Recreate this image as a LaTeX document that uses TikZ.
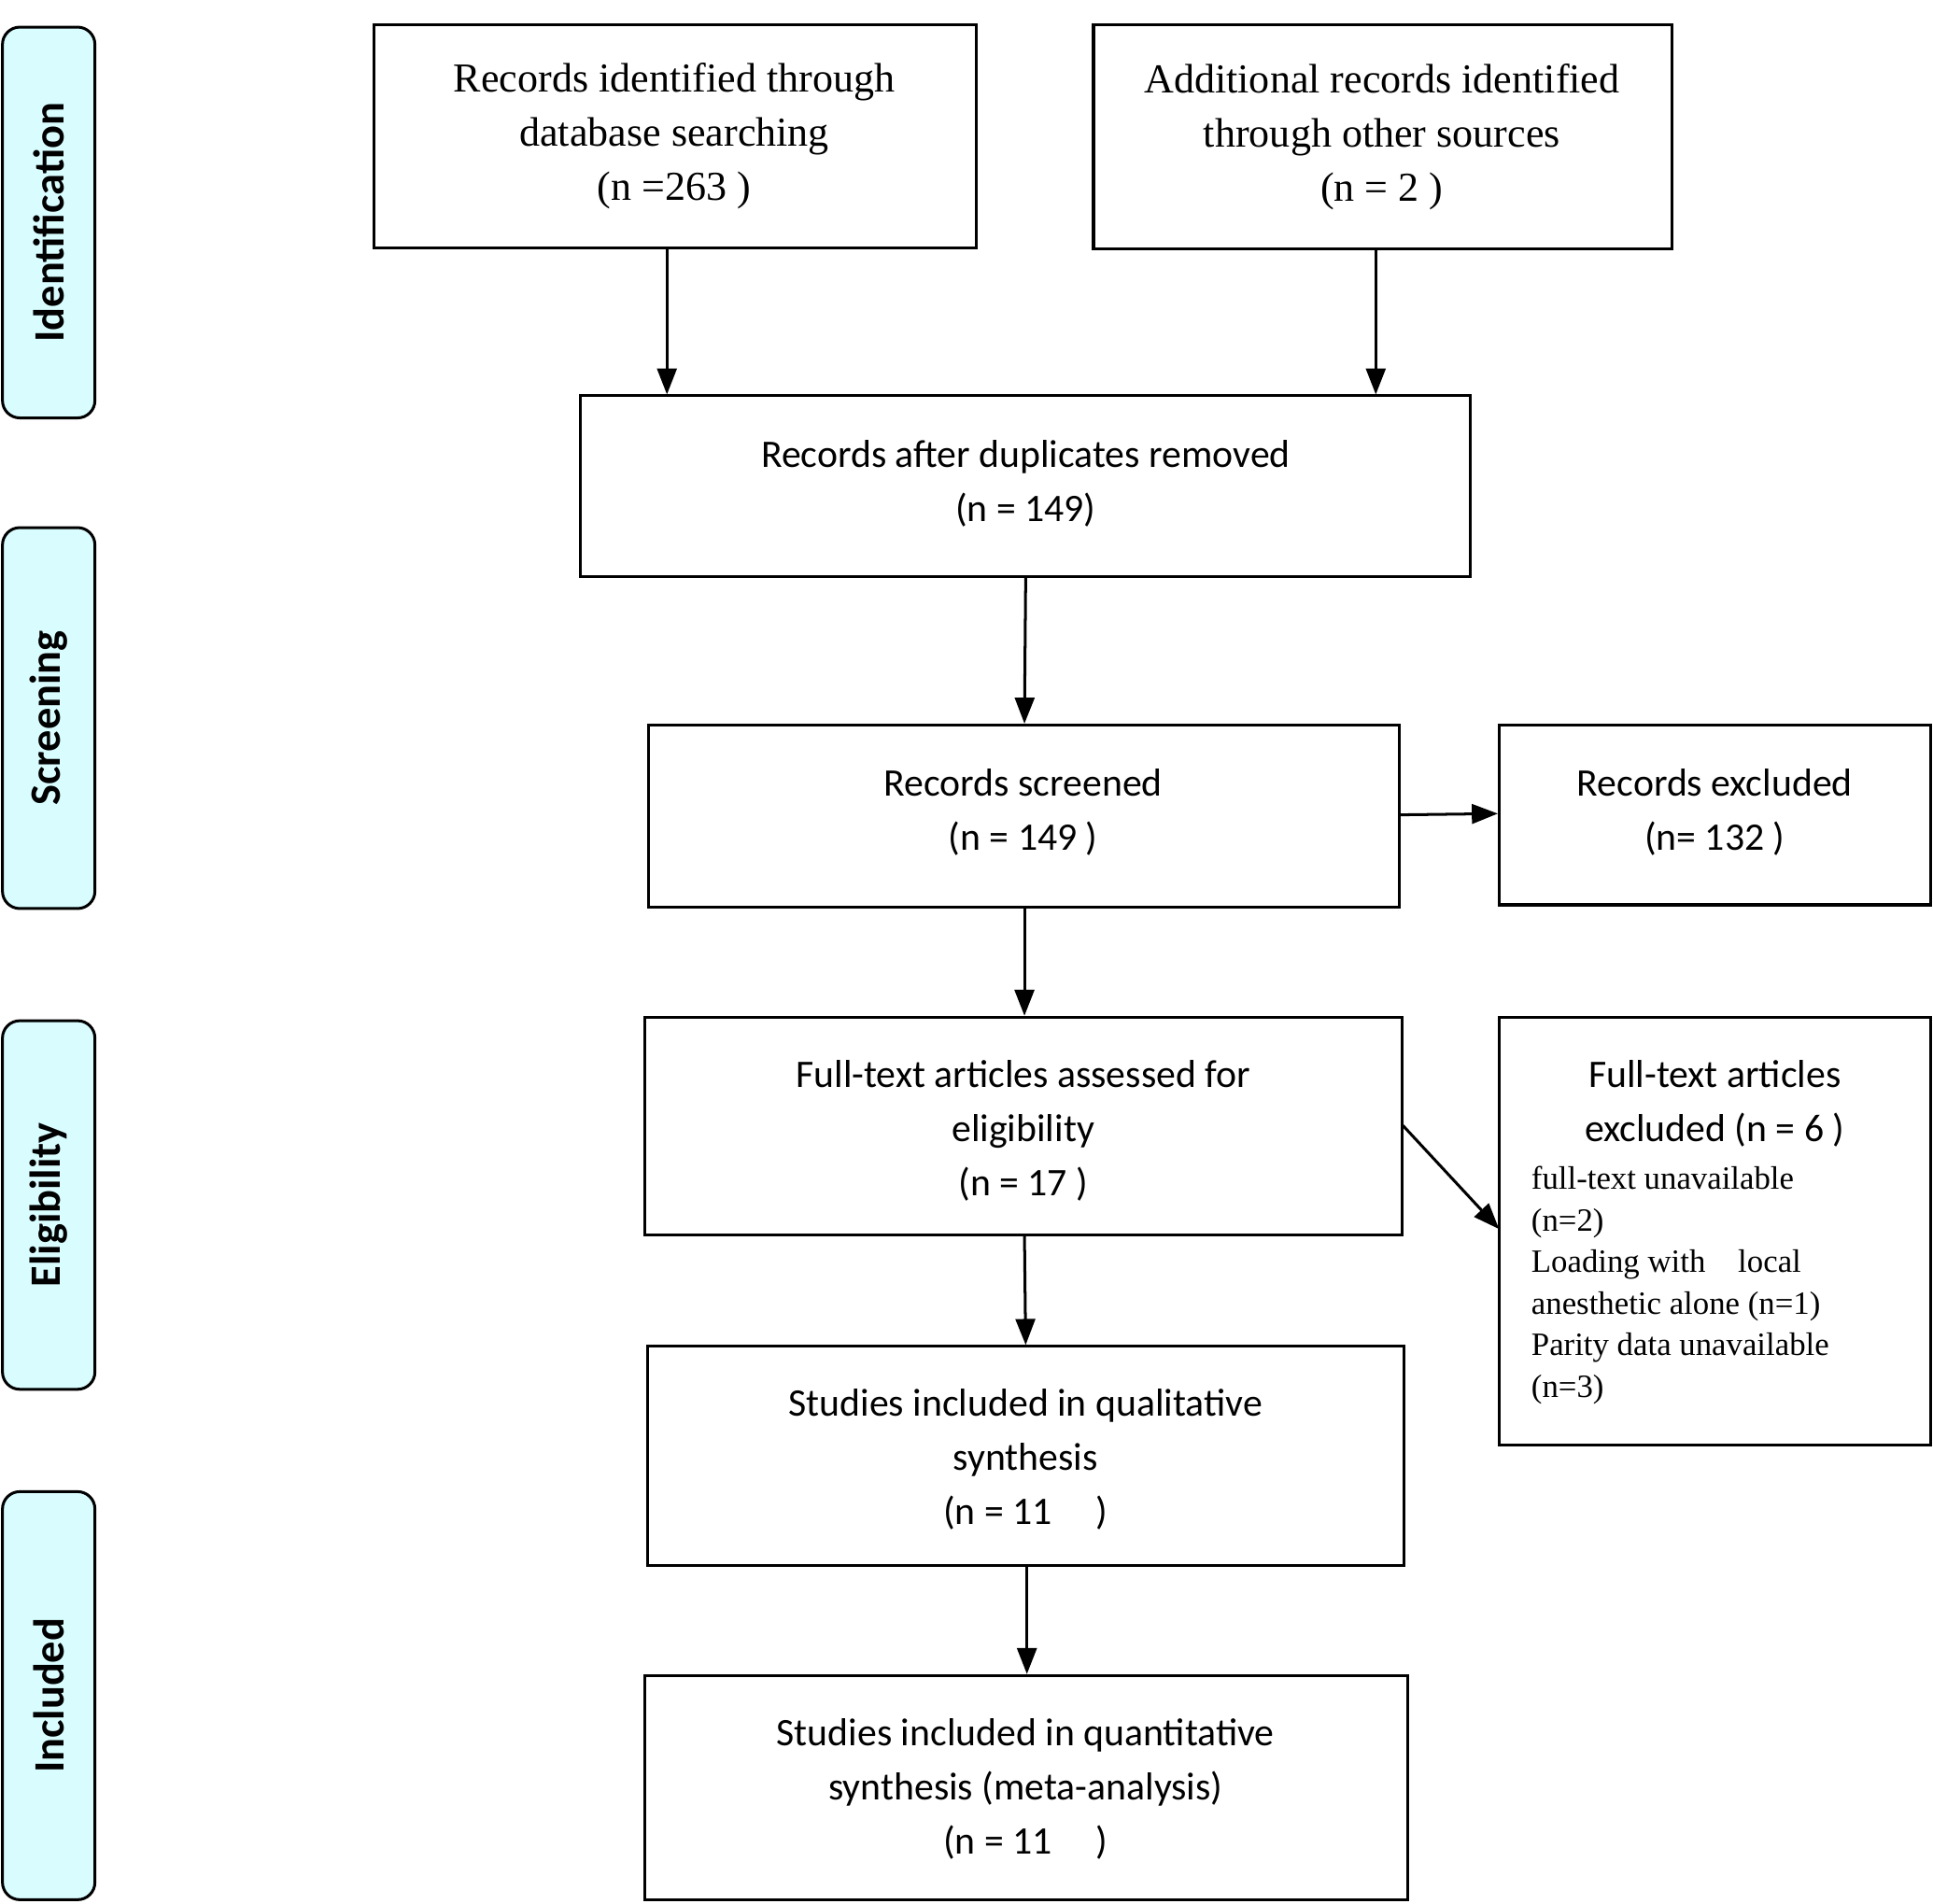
\documentclass[tikz,border=0pt]{standalone}
\usepackage{fontspec}
\setmainfont{Liberation Serif}
\newfontfamily\carlitofont{Carlito}
\usetikzlibrary{arrows.meta}
\begin{document}
\begin{tikzpicture}[x=0.02cm,y=-0.02cm,
  box/.style={draw,line width=1.3pt,inner sep=0pt},
  side/.style={draw,line width=1.3pt,rounded corners=8pt,fill=blue!5!cyan!15},
  arr/.style={-{Triangle[length=12pt,width=9pt]},line width=1.3pt},
  st/.style={font=\carlitofont\fontsize{18}{25}\selectfont,align=center},
  sr/.style={font=\fontsize{19}{25}\selectfont,align=center}]
\useasboundingbox (0,0) rectangle (1568,1544);
% side labels
\foreach \a/\b/\t [count=\i] in {22/339/Identification,428/737/Screening,828/1127/Eligibility,1210/1541/Included}{
  \draw[side] (2,\a) rectangle (77,\b);
  \node[rotate=90,font=\carlitofont\bfseries\fontsize{20}{24}\selectfont] (s\i) at (39.5,{(\a+\b)/2}) {\t};
}
\draw[box] (303,20) rectangle (792,201);
\node[sr] (a) at (547,110) {Records identified through\\database searching\\(n =263 )};
\draw[box] (887,20) rectangle (1356,202);
\node[sr] (b) at (1121,111) {Additional records identified\\through other sources\\(n = 2 )};
\draw[box] (471,321) rectangle (1193,468);
\node[st] (c) at (832,392) {Records after duplicates removed\\(n = 149)};
\draw[box] (526,588) rectangle (1135,736);
\node[st] (d) at (830,659) {Records screened\\(n = 149 )};
\draw[box] (1216,588) rectangle (1566,734);
\node[st] (e) at (1391,659) {Records excluded\\(n= 132 )};
\draw[box] (523,825) rectangle (1137,1002);
\node[st] (f) at (830,917) {Full-text articles assessed for\\eligibility\\(n = 17 )};
\draw[box] (1216,825) rectangle (1566,1172);
\node[st] (g) at (1391,895) {Full-text articles\\excluded (n = 6 )};
\node[font=\fontsize{15}{19.2}\selectfont,align=left,anchor=north west] (g2) at (1236,940) {full-text unavailable\\(n=2)\\Loading with \ \ \ local\\anesthetic alone (n=1)\\Parity data unavailable\\(n=3)};
\draw[box] (525,1092) rectangle (1139,1270);
\node[st] (h) at (832,1184) {Studies included in qualitative\\synthesis\\(n = 11 \ \ \ \ )};
\draw[box] (523,1359) rectangle (1142,1541);
\node[st] (i) at (832,1451) {Studies included in quantitative\\synthesis (meta-analysis)\\(n = 11 \ \ \ \ )};
\coordinate (a1) at (541,201); \coordinate (a2) at (541,320);
\coordinate (b1) at (1116,202); \coordinate (b2) at (1116,320);
\coordinate (c1) at (832,468); \coordinate (c2) at (831,587);
\coordinate (d1) at (1135,661); \coordinate (d2) at (1215,660);
\coordinate (d3) at (831,736); \coordinate (d4) at (831,824);
\coordinate (f1) at (1138,913); \coordinate (f2) at (1216,997);
\coordinate (f3) at (831,1002); \coordinate (f4) at (832,1091);
\coordinate (h1) at (833,1270); \coordinate (h2) at (833,1358);
\foreach \p/\q in {a1/a2,b1/b2,c1/c2,d1/d2,d3/d4,f1/f2,f3/f4,h1/h2}
  \draw[arr] (\p) -- (\q);
\end{tikzpicture}
\end{document}
